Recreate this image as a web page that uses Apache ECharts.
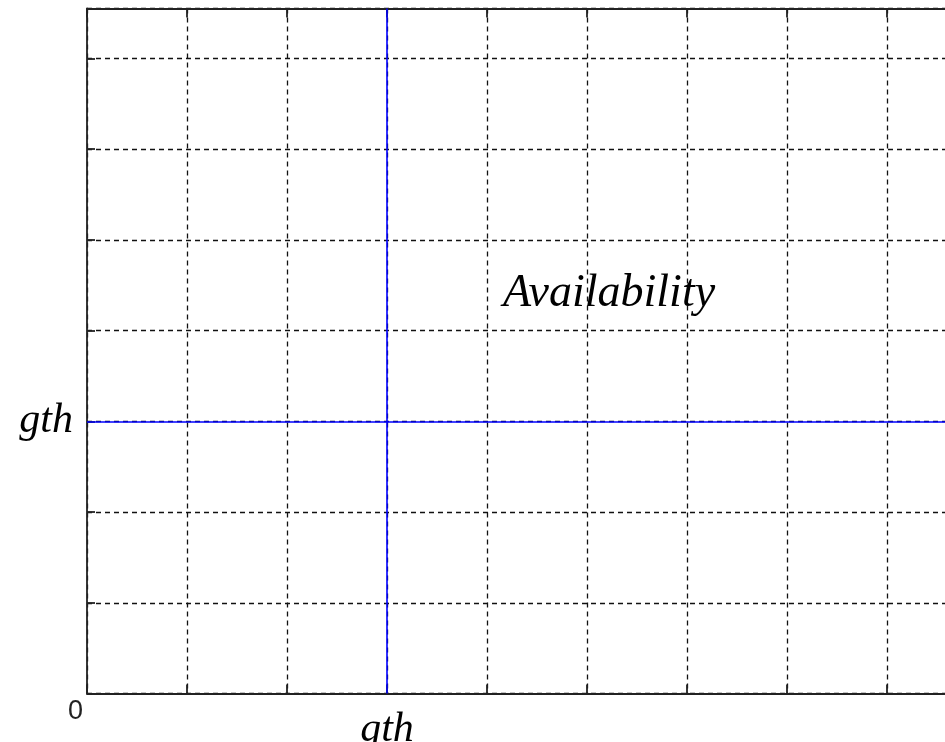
<!DOCTYPE html>
<html>
<head>
<meta charset="utf-8">
<script src="https://cdn.jsdelivr.net/npm/echarts@6/dist/echarts.min.js"></script>
<style>
  html, body { margin: 0; padding: 0; background: #fff; }
  #chart { width: 945px; height: 742px; }
</style>
</head>
<body>
<div id="chart"></div>
<script>
// ---- data ----
const xRange = [0, 9.08];          // x axis extent (ticks every 1 unit)
const yRange = [0, 7.55];          // y axis extent (ticks every 1 unit)
const thresholdX = [3];            // vertical blue threshold (gth on x)
const thresholdY = [3];            // horizontal blue threshold (gth on y)
const thresholdLabel = 'gth';
const originLabel = '0';
const annotationText = ['Availability'];
const annotationPos = [[4.16, 4.15]];

const serifItalic = {
  fontFamily: '"Liberation Serif", "DejaVu Serif", serif',
  fontStyle: 'italic',
  color: '#000'
};

const axisLineStyle = { color: '#222', width: 1.8 };
const tickStyle = { color: '#222', width: 1.8 };
const gridLineStyle = { color: '#111', width: 1.3, type: [5, 4] };

const chart = echarts.init(document.getElementById('chart'), null, { renderer: 'canvas' });

chart.setOption({
  animation: false,
  backgroundColor: '#fff',
  grid: { left: 87, top: 8.5, width: 908, bottom: 48.5, containLabel: false, outerBoundsMode: 'none' },
  xAxis: [
    {
      type: 'value', position: 'bottom', min: xRange[0], max: xRange[1], interval: 1,
      axisLine: { show: true, lineStyle: axisLineStyle },
      axisTick: { show: true, inside: true, length: 9, lineStyle: tickStyle },
      splitLine: { show: true, lineStyle: gridLineStyle },
      axisLabel: {
        show: true, margin: 15, fontSize: 42, ...serifItalic,
        showMinLabel: true, showMaxLabel: false,
        formatter: v => (thresholdX.includes(v) ? thresholdLabel : '')
      }
    },
    {
      type: 'value', position: 'top', min: xRange[0], max: xRange[1], interval: 1,
      axisLine: { show: true, onZero: false, lineStyle: axisLineStyle },
      axisTick: { show: true, inside: true, length: 9, lineStyle: tickStyle },
      splitLine: { show: false },
      axisLabel: { show: false }
    }
  ],
  yAxis: [
    {
      type: 'value', position: 'left', min: yRange[0], max: yRange[1], interval: 1,
      axisLine: { show: true, onZero: false, lineStyle: axisLineStyle },
      axisTick: { show: true, inside: true, length: 8, lineStyle: tickStyle },
      splitLine: { show: true, lineStyle: gridLineStyle },
      axisLabel: {
        show: true, margin: 14, fontSize: 42, ...serifItalic,
        showMaxLabel: false,
        formatter: v => (thresholdY.includes(v) ? thresholdLabel : '')
      }
    }
  ],
  graphic: [
    {
      type: 'text', left: 68, top: 698,
      style: { text: originLabel, font: '27px "Liberation Sans", "DejaVu Sans", sans-serif', fill: '#222' }
    }
  ],
  series: [
    {
      type: 'line',
      xAxisIndex: 0, yAxisIndex: 0,
      data: [],
      markLine: {
        silent: true,
        symbol: 'none',
        label: { show: false },
        lineStyle: { color: '#0000ff', width: 1.6, type: 'solid' },
        data: [
          ...thresholdX.map(v => ({ xAxis: v })),
          ...thresholdY.map(v => ({ yAxis: v }))
        ]
      },
      markPoint: {
        silent: true,
        symbol: 'circle',
        symbolSize: 0,
        itemStyle: { color: '#000', opacity: 1 },
        label: {
          show: true, position: 'inside', align: 'left', verticalAlign: 'bottom',
          formatter: p => p.name,
          fontSize: 46, ...serifItalic,
          color: '#000', opacity: 1, textBorderWidth: 0, textShadowBlur: 0
        },
        data: annotationPos.map((p, i) => ({ coord: p, name: annotationText[i] }))
      }
    }
  ]
});
</script>
</body>
</html>
